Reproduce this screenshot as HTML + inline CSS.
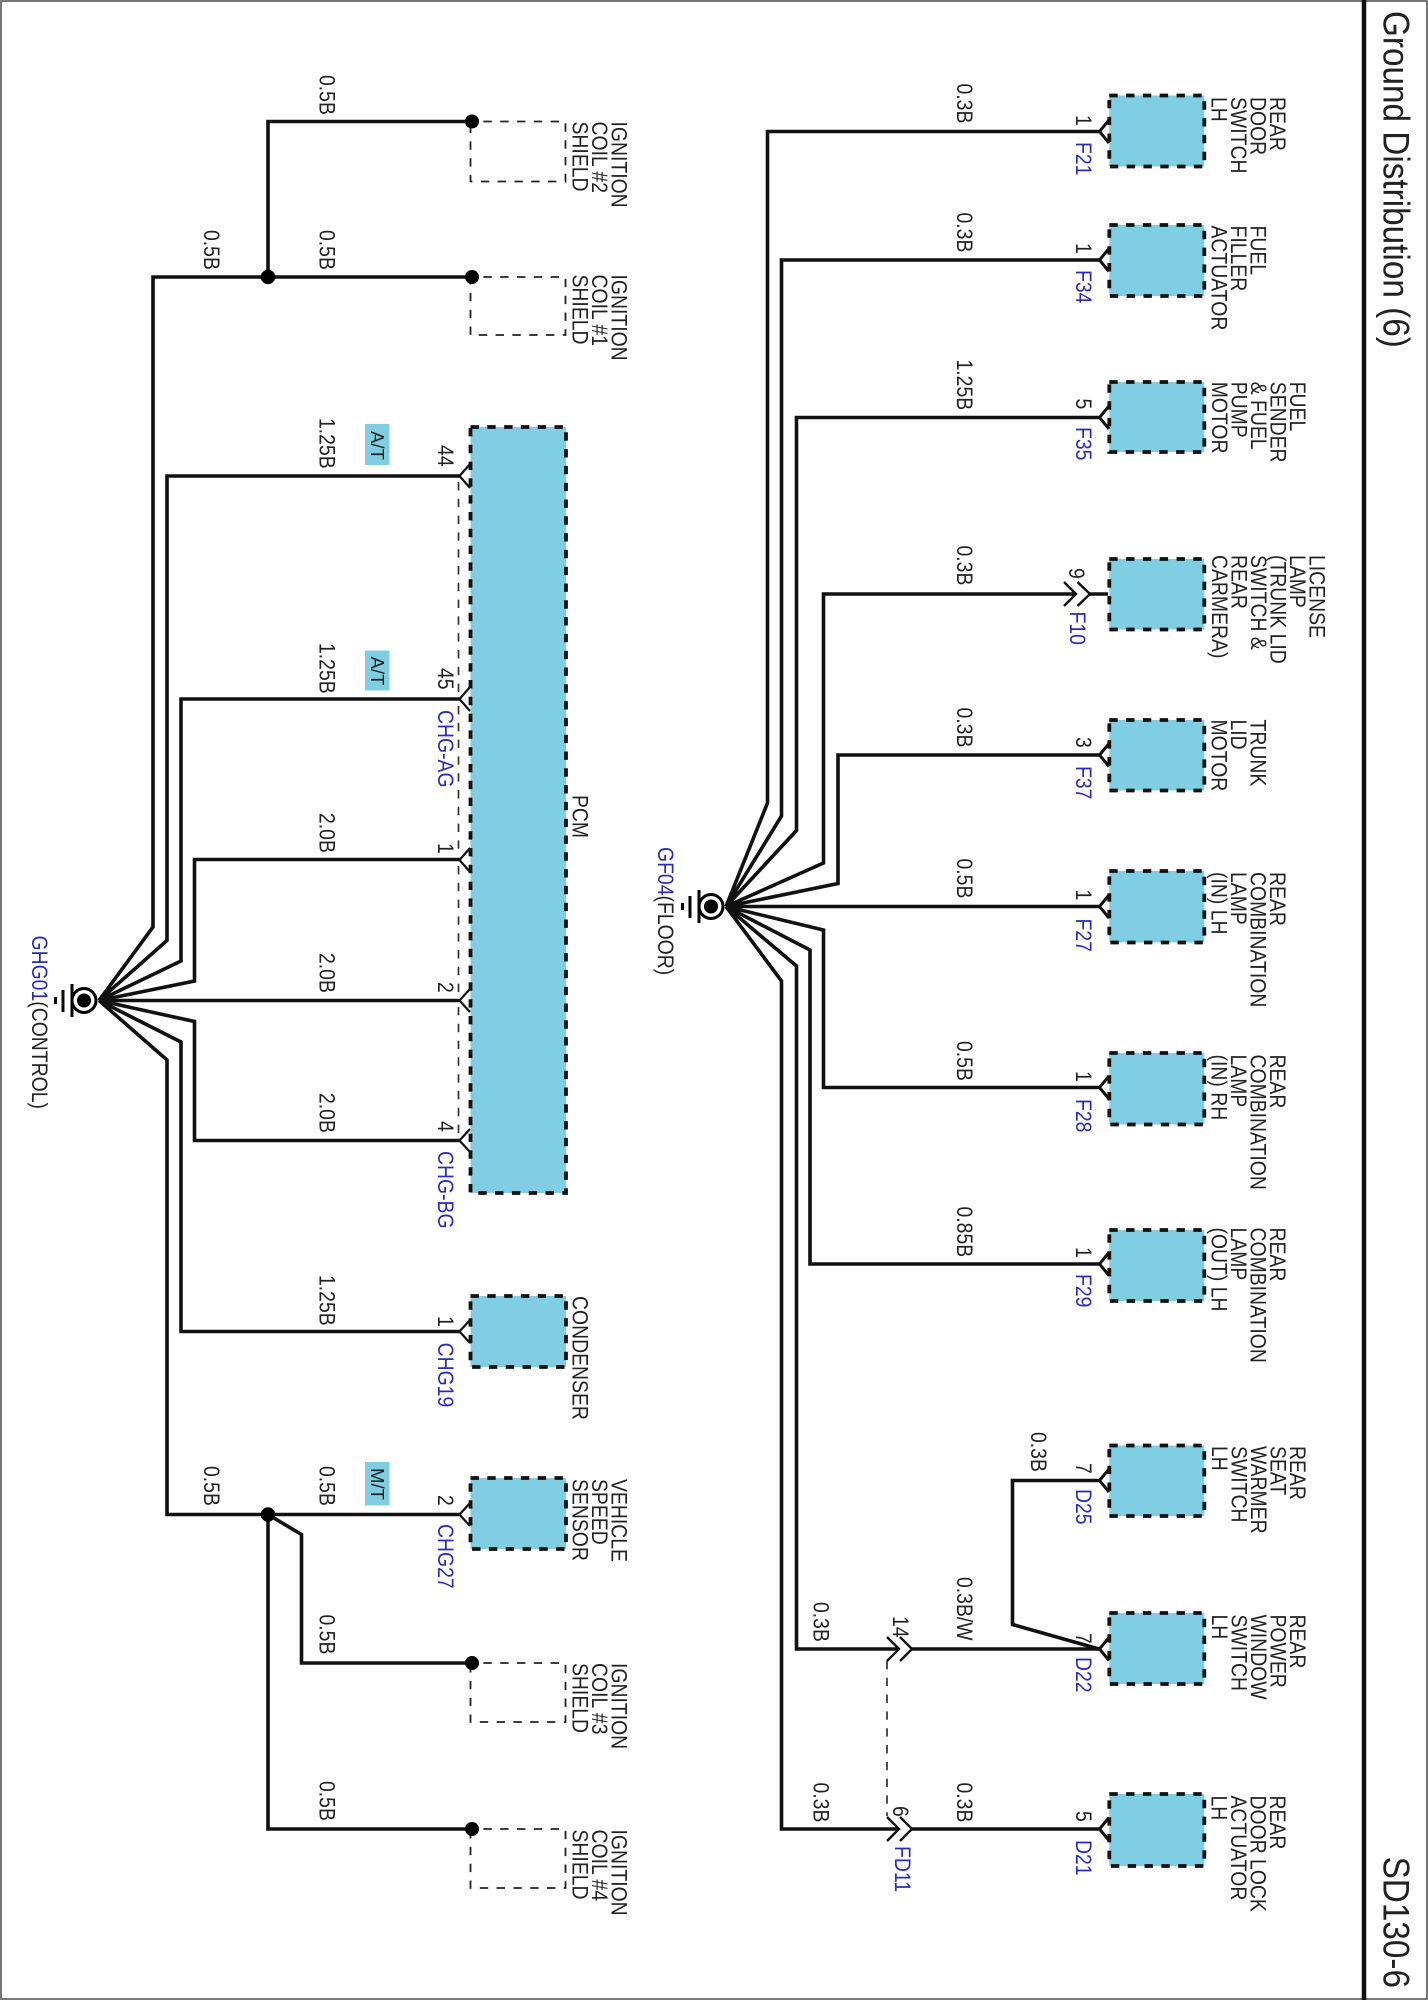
<!DOCTYPE html>
<html><head><meta charset="utf-8"><style>
html,body{margin:0;padding:0;background:#fff}
svg{display:block}
text{font-family:"Liberation Sans",sans-serif;font-size:19.4px;fill:#222}
.b{fill:#2b2bb8}
.t{font-size:33.3px;fill:#222}
.w{fill:none;stroke:#111;stroke-width:3.6}
.c{fill:none;stroke:#111;stroke-width:2.2}
.r{fill:none;stroke:#111;stroke-width:3}
.m{fill:none;stroke:#111;stroke-width:2.4}
.box{fill:#7fcee3;stroke:#111;stroke-width:3.8;stroke-dasharray:8.4 8.4}
.ig{fill:none;stroke:#222;stroke-width:1.8;stroke-dasharray:8.4 8.4;stroke-dashoffset:3.9}
.d{fill:none;stroke:#333;stroke-width:1.7;stroke-dasharray:8.4 8.4}
.tag{fill:#7fcee3}
</style></head><body>
<svg xmlns="http://www.w3.org/2000/svg" width="1428" height="2000" viewBox="0 0 1428 2000">
<rect x="1" y="1" width="1426" height="1998" fill="none" stroke="#555" stroke-width="1.6"/>
<line x1="1364" y1="0" x2="1364" y2="2000" stroke="#111" stroke-width="4.5"/>

<!-- blue boxes -->
<rect class="box" x="470.5" y="427" width="95.5" height="766"/>
<rect class="box" x="470.5" y="1296" width="95.5" height="71"/>
<rect class="box" x="470.5" y="1478" width="95.5" height="71"/>
<rect class="box" x="1109.3" y="95.5" width="95" height="71"/>
<rect class="box" x="1109.3" y="225" width="95" height="71"/>
<rect class="box" x="1109.3" y="382" width="95" height="70"/>
<rect class="box" x="1109.3" y="559" width="95" height="70.5"/>
<rect class="box" x="1109.3" y="720" width="95" height="70.5"/>
<rect class="box" x="1109.3" y="871" width="95" height="71.5"/>
<rect class="box" x="1109.3" y="1053" width="95" height="71.5"/>
<rect class="box" x="1109.3" y="1230" width="95" height="71"/>
<rect class="box" x="1109.3" y="1445.5" width="95" height="70.5"/>
<rect class="box" x="1109.3" y="1613" width="95" height="71"/>
<rect class="box" x="1109.3" y="1794" width="95" height="72"/>

<!-- ignition boxes -->
<rect class="ig" x="470.5" y="121.5" width="95" height="60"/>
<rect class="ig" x="470.5" y="277" width="95" height="58"/>
<rect class="ig" x="470.5" y="1663" width="95" height="59"/>
<rect class="ig" x="470.5" y="1829" width="95" height="59"/>

<!-- dashed links -->
<path class="d" d="M458.5 482V695M458.5 706V854M458.5 866V995M458.5 1007V1134"/>
<path class="d" d="M887 1661V1816"/>

<!-- left wires -->
<path class="w" d="M472 121.5H268V277"/>
<path class="w" d="M472 277H153V927L99 1000.5"/>
<path class="w" d="M460 476H167V940.5L99 1000.5"/>
<path class="w" d="M460 699H181V961L99 1000.5"/>
<path class="w" d="M460 859.5H194.5V981L99 1000.5"/>
<path class="w" d="M460 1000.5H99"/>
<path class="w" d="M460 1140.5H194.5V1021.5L99 1000.5"/>
<path class="w" d="M460 1331.5H181V1042L99 1000.5"/>
<path class="w" d="M460 1514.5H167V1060L99 1000.5"/>
<path class="w" d="M268 1514.5L301.5 1534.5V1663H472"/>
<path class="w" d="M268 1514.5V1829H472"/>

<!-- right wires -->
<path class="w" d="M1099 131.5H767.5V803L726 906.5"/>
<path class="w" d="M1099 260H781.5V816L726 906.5"/>
<path class="w" d="M1099 417.5H796.5V830.5L726 906.5"/>
<path class="w" d="M1076 594H823.5V863L726 906.5"/>
<path class="w" d="M1099 755H838V883.5L726 906.5"/>
<path class="w" d="M1099 906.5H726"/>
<path class="w" d="M1099 1087.5H823.5V930L726 906.5"/>
<path class="w" d="M1099 1264H810V950L726 906.5"/>
<path class="w" d="M898 1649H796.5V966L726 906.5"/>
<path class="w" d="M898 1829H781.5V981L726 906.5"/>
<path class="w" d="M911 1649H1099"/>
<path class="w" d="M911 1829H1099"/>
<path class="w" d="M1099 1480.5H1012.5V1624.5L1099 1649"/>
<path class="w" d="M1089 594H1108"/>

<!-- dots -->
<g fill="#000">
<circle cx="472" cy="121.5" r="7"/><circle cx="472" cy="277" r="7"/><circle cx="268" cy="277" r="7.3"/>
<circle cx="268" cy="1514.5" r="7.3"/><circle cx="472" cy="1663" r="7"/><circle cx="472" cy="1829" r="7"/>
</g>

<!-- connectors left -->
<path class="c" d="M470 464L459.5 476L470 488"/>
<path class="c" d="M470 687L459.5 699L470 711"/>
<path class="c" d="M470 848L459.5 860L470 872"/>
<path class="c" d="M470 989L459.5 1000.5L470 1012"/>
<path class="c" d="M470 1129L459.5 1140.5L470 1152"/>
<path class="c" d="M470 1320L459.5 1331.5L470 1343"/>
<path class="c" d="M470 1503L459.5 1514.5L470 1526"/>
<!-- connectors right -->
<path class="r" d="M1109 120L1099.5 131.5L1109 143"/>
<path class="r" d="M1109 248.5L1099.5 260L1109 271.5"/>
<path class="r" d="M1109 406L1099.5 417.5L1109 429"/>
<path class="r" d="M1109 743.5L1099.5 755L1109 766.5"/>
<path class="r" d="M1109 895L1099.5 906.5L1109 918"/>
<path class="r" d="M1109 1076L1099.5 1087.5L1109 1099"/>
<path class="r" d="M1109 1252.5L1099.5 1264L1109 1275.5"/>
<path class="r" d="M1109 1469L1099.5 1480.5L1109 1492"/>
<path class="r" d="M1109 1637.5L1099.5 1649L1109 1660.5"/>
<path class="r" d="M1109 1817.5L1099.5 1829L1109 1840.5"/>
<!-- male connectors -->
<path class="m" d="M1064 582L1076 594L1064 606M1077.5 582L1090 594L1077.5 606"/>
<path class="m" d="M887 1637L899 1649L887 1661M900 1637L912 1649L900 1661"/>
<path class="m" d="M887 1817L899 1829L887 1841M900 1817L912 1829L900 1841"/>

<!-- grounds -->
<g>
<circle cx="84" cy="1000.5" r="12" fill="#fff" stroke="#000" stroke-width="3"/><circle cx="84" cy="1000.5" r="7" fill="#000"/>
<path d="M72 984V1017M63 990V1012M55.5 997V1004" stroke="#000" stroke-width="3" fill="none"/>
<circle cx="711" cy="906.5" r="12" fill="#fff" stroke="#000" stroke-width="3"/><circle cx="711" cy="906.5" r="7" fill="#000"/>
<path d="M699 890V923M690 896V918M682.5 903V910" stroke="#000" stroke-width="3" fill="none"/>
</g>

<!-- tags -->
<rect class="tag" x="365" y="424" width="24.5" height="41"/>
<rect class="tag" x="365" y="650.5" width="24.5" height="40"/>
<rect class="tag" x="365" y="1462" width="24.5" height="43.5"/>

<!-- titles -->
<text class="t" transform="matrix(0 1 -1.1 0 1383.4 11)">Ground Distribution (6)</text>
<text class="t" transform="matrix(0 1 -1.1 0 1383.4 1856.6)">SD130-6</text>

<!-- left labels -->
<text transform="matrix(0 1 -1.13 0 319.5 75)">0.5B</text>
<text transform="matrix(0 1 -1.13 0 319.5 230)">0.5B</text>
<text transform="matrix(0 1 -1.13 0 204 230)">0.5B</text>
<text transform="matrix(0 1 -1.13 0 319.5 418)">1.25B</text>
<text transform="matrix(0 1 -1.13 0 319.5 643)">1.25B</text>
<text transform="matrix(0 1 -1.13 0 319.5 813)">2.0B</text>
<text transform="matrix(0 1 -1.13 0 319.5 953)">2.0B</text>
<text transform="matrix(0 1 -1.13 0 319.5 1093)">2.0B</text>
<text transform="matrix(0 1 -1.13 0 319.5 1275)">1.25B</text>
<text transform="matrix(0 1 -1.13 0 204 1466)">0.5B</text>
<text transform="matrix(0 1 -1.13 0 319.5 1466)">0.5B</text>
<text transform="matrix(0 1 -1.13 0 319.5 1614.5)">0.5B</text>
<text transform="matrix(0 1 -1.13 0 319.5 1781)">0.5B</text>
<text transform="matrix(0 1 -1 0 371 431)" style="font-size:18.6px">A/T</text>
<text transform="matrix(0 1 -1 0 371 656.5)" style="font-size:18.6px">A/T</text>
<text transform="matrix(0 1 -1 0 371 1468)" style="font-size:18.6px">M/T</text>
<text transform="matrix(0 1 -1.13 0 438 445)">44</text>
<text transform="matrix(0 1 -1.13 0 438 668)">45</text>
<text transform="matrix(0 1 -1.13 0 438 843)">1</text>
<text transform="matrix(0 1 -1.13 0 438 982)">2</text>
<text transform="matrix(0 1 -1.13 0 438 1121)">4</text>
<text transform="matrix(0 1 -1.13 0 438 1316)">1</text>
<text transform="matrix(0 1 -1.13 0 438 1495)">2</text>
<text class="b" transform="matrix(0 1 -1.13 0 438 710)">CHG-AG</text>
<text class="b" transform="matrix(0 1 -1.13 0 438 1151)">CHG-BG</text>
<text class="b" transform="matrix(0 1 -1.13 0 438 1342.6)">CHG19</text>
<text class="b" transform="matrix(0 1 -1.13 0 438 1524)">CHG27</text>
<text transform="matrix(0 1 -1.13 0 572.4 795)">PCM</text>
<text transform="matrix(0 1 -1.13 0 572.4 1296)">CONDENSER</text>
<g transform="matrix(0 1 -1.13 0 611.6 1479)"><text>VEHICLE</text><text y="17.3">SPEED</text><text y="34.6">SENSOR</text></g>
<g transform="matrix(0 1 -1.13 0 611.6 121.5)"><text>IGNITION</text><text y="17.3">COIL #2</text><text y="34.6">SHIELD</text></g>
<g transform="matrix(0 1 -1.13 0 611.6 274.5)"><text>IGNITION</text><text y="17.3">COIL #1</text><text y="34.6">SHIELD</text></g>
<g transform="matrix(0 1 -1.13 0 611.6 1663)"><text>IGNITION</text><text y="17.3">COIL #3</text><text y="34.6">SHIELD</text></g>
<g transform="matrix(0 1 -1.13 0 611.6 1829.5)"><text>IGNITION</text><text y="17.3">COIL #4</text><text y="34.6">SHIELD</text></g>
<text transform="matrix(0 1 -1.13 0 32 935.5)"><tspan class="b">GHG01</tspan>(CONTROL)</text>
<text transform="matrix(0 1 -1.13 0 658 847)"><tspan class="b">GF04</tspan>(FLOOR)</text>

<!-- right labels -->
<text transform="matrix(0 1 -1.13 0 956.8 83.5)">0.3B</text>
<text transform="matrix(0 1 -1.13 0 956.8 212.5)">0.3B</text>
<text transform="matrix(0 1 -1.13 0 956.8 359.5)">1.25B</text>
<text transform="matrix(0 1 -1.13 0 956.8 545.5)">0.3B</text>
<text transform="matrix(0 1 -1.13 0 956.8 707.5)">0.3B</text>
<text transform="matrix(0 1 -1.13 0 956.8 858.5)">0.5B</text>
<text transform="matrix(0 1 -1.13 0 956.8 1041)">0.5B</text>
<text transform="matrix(0 1 -1.13 0 956.8 1206.5)">0.85B</text>
<text transform="matrix(0 1 -1.13 0 1031 1432)">0.3B</text>
<text transform="matrix(0 1 -1.13 0 956.8 1577)">0.3B/W</text>
<text transform="matrix(0 1 -1.13 0 813.3 1602)">0.3B</text>
<text transform="matrix(0 1 -1.13 0 813.3 1782.5)">0.3B</text>
<text transform="matrix(0 1 -1.13 0 956.8 1782.5)">0.3B</text>
<text transform="matrix(0 1 -1.13 0 893 1616)">14</text>
<text transform="matrix(0 1 -1.13 0 893 1806)">6</text>
<text class="b" transform="matrix(0 1 -1.13 0 895 1846)">FD11</text>
<text transform="matrix(0 1 -1.13 0 1076 115)">1</text>
<text transform="matrix(0 1 -1.13 0 1076 243)">1</text>
<text transform="matrix(0 1 -1.13 0 1076 398.5)">5</text>
<text transform="matrix(0 1 -1.13 0 1069 568)">9</text>
<text transform="matrix(0 1 -1.13 0 1076 737)">3</text>
<text transform="matrix(0 1 -1.13 0 1076 889.5)">1</text>
<text transform="matrix(0 1 -1.13 0 1076 1071)">1</text>
<text transform="matrix(0 1 -1.13 0 1076 1247)">1</text>
<text transform="matrix(0 1 -1.13 0 1076 1463)">7</text>
<text transform="matrix(0 1 -1.13 0 1076 1633)">7</text>
<text transform="matrix(0 1 -1.13 0 1076 1811)">5</text>
<text class="b" transform="matrix(0 1 -1.13 0 1076 142)">F21</text>
<text class="b" transform="matrix(0 1 -1.13 0 1076 270)">F34</text>
<text class="b" transform="matrix(0 1 -1.13 0 1076 427)">F35</text>
<text class="b" transform="matrix(0 1 -1.13 0 1070 611.5)">F10</text>
<text class="b" transform="matrix(0 1 -1.13 0 1076 766)">F37</text>
<text class="b" transform="matrix(0 1 -1.13 0 1076 918.5)">F27</text>
<text class="b" transform="matrix(0 1 -1.13 0 1076 1099)">F28</text>
<text class="b" transform="matrix(0 1 -1.13 0 1076 1274)">F29</text>
<text class="b" transform="matrix(0 1 -1.13 0 1076 1489)">D25</text>
<text class="b" transform="matrix(0 1 -1.13 0 1076 1657)">D22</text>
<text class="b" transform="matrix(0 1 -1.13 0 1076 1840)">D21</text>

<g transform="matrix(0 1 -1.13 0 1270 97)"><text>REAR</text><text y="17.3">DOOR</text><text y="34.6">SWITCH</text><text y="51.9">LH</text></g>
<g transform="matrix(0 1 -1.13 0 1250.4 225.5)"><text>FUEL</text><text y="17.3">FILLER</text><text y="34.6">ACTUATOR</text></g>
<g transform="matrix(0 1 -1.13 0 1290 381.7)"><text>FUEL</text><text y="17.3">SENDER</text><text y="34.6">&amp; FUEL</text><text y="51.9">PUMP</text><text y="69.2">MOTOR</text></g>
<g transform="matrix(0 1 -1.13 0 1309.5 555)"><text>LICENSE</text><text y="17.3">LAMP</text><text y="34.6">(TRUNK LID</text><text y="51.9">SWITCH &amp;</text><text y="69.2">REAR</text><text y="86.5">CARMERA)</text></g>
<g transform="matrix(0 1 -1.13 0 1250.4 719.5)"><text>TRUNK</text><text y="17.3">LID</text><text y="34.6">MOTOR</text></g>
<g transform="matrix(0 1 -1.13 0 1270 872)"><text>REAR</text><text y="17.3">COMBINATION</text><text y="34.6">LAMP</text><text y="51.9">(IN) LH</text></g>
<g transform="matrix(0 1 -1.13 0 1270 1054.5)"><text>REAR</text><text y="17.3">COMBINATION</text><text y="34.6">LAMP</text><text y="51.9">(IN) RH</text></g>
<g transform="matrix(0 1 -1.13 0 1270 1227.5)"><text>REAR</text><text y="17.3">COMBINATION</text><text y="34.6">LAMP</text><text y="51.9">(OUT) LH</text></g>
<g transform="matrix(0 1 -1.13 0 1290 1446)"><text>REAR</text><text y="17.3">SEAT</text><text y="34.6">WARMER</text><text y="51.9">SWITCH</text><text y="69.2">LH</text></g>
<g transform="matrix(0 1 -1.13 0 1290 1614.5)"><text>REAR</text><text y="17.3">POWER</text><text y="34.6">WINDOW</text><text y="51.9">SWITCH</text><text y="69.2">LH</text></g>
<g transform="matrix(0 1 -1.13 0 1270 1795.5)"><text>REAR</text><text y="17.3">DOOR LOCK</text><text y="34.6">ACTUATOR</text><text y="51.9">LH</text></g>
</svg>
</body></html>
